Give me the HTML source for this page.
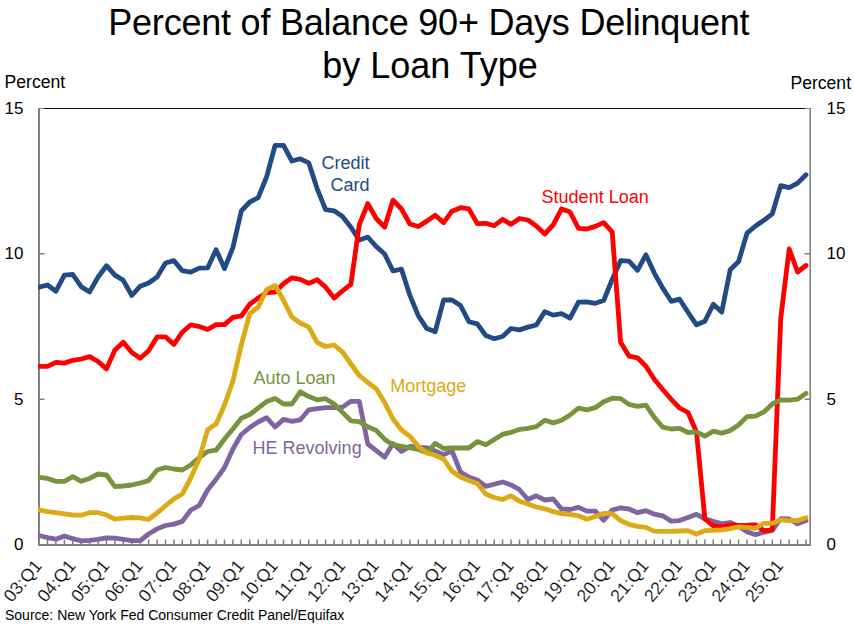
<!DOCTYPE html>
<html><head><meta charset="utf-8"><style>
html,body{margin:0;padding:0;background:#fff;width:854px;height:624px;overflow:hidden}
svg{display:block}
text{font-family:"Liberation Sans", sans-serif}
</style></head><body>
<svg width="854" height="624" viewBox="0 0 854 624">
<rect width="854" height="624" fill="#fff"/>
<g font-size="36" text-anchor="middle" fill="#000">
<text x="428.8" y="35" letter-spacing="-0.22">Percent of Balance 90+ Days Delinquent</text>
<text x="430" y="77.5">by Loan Type</text>
</g>
<g font-size="17" fill="#000">
<text x="4.6" y="87.6" font-size="17.6">Percent</text>
<text x="790.4" y="89" font-size="17.6">Percent</text>
<g text-anchor="end">
<text x="23.5" y="113.5">15</text>
<text x="23.5" y="259">10</text>
<text x="23.5" y="405">5</text>
<text x="23.5" y="550">0</text>
</g>
<text x="826.5" y="113.5">15</text>
<text x="826.5" y="259">10</text>
<text x="826.5" y="405">5</text>
<text x="826.5" y="550">0</text>
</g>
<line x1="44" y1="108.5" x2="805" y2="108.5" stroke="#111" stroke-width="1.2"/>
<path d="M38 108.5H44M805 108.5H811" stroke="#8a8a8a" stroke-width="1.2"/>
<g stroke="#808080" fill="none">
<path d="M39 108V544.9H811" stroke-width="2"/>
<path d="M810.2 108V545.9" stroke-width="1.6"/>
<path d="M47.5 544V539.5 M55.9 544V539.5 M64.4 544V539.5 M72.8 544V539.5 M81.2 544V539.5 M89.6 544V539.5 M98.1 544V539.5 M106.5 544V539.5 M114.9 544V539.5 M123.3 544V539.5 M131.8 544V539.5 M140.2 544V539.5 M148.6 544V539.5 M157.1 544V539.5 M165.5 544V539.5 M173.9 544V539.5 M182.3 544V539.5 M190.8 544V539.5 M199.2 544V539.5 M207.6 544V539.5 M216.1 544V539.5 M224.5 544V539.5 M232.9 544V539.5 M241.3 544V539.5 M249.8 544V539.5 M258.2 544V539.5 M266.6 544V539.5 M275.1 544V539.5 M283.5 544V539.5 M291.9 544V539.5 M300.3 544V539.5 M308.8 544V539.5 M317.2 544V539.5 M325.6 544V539.5 M334.1 544V539.5 M342.5 544V539.5 M350.9 544V539.5 M359.3 544V539.5 M367.8 544V539.5 M376.2 544V539.5 M384.6 544V539.5 M393.0 544V539.5 M401.5 544V539.5 M409.9 544V539.5 M418.3 544V539.5 M426.8 544V539.5 M435.2 544V539.5 M443.6 544V539.5 M452.0 544V539.5 M460.5 544V539.5 M468.9 544V539.5 M477.3 544V539.5 M485.8 544V539.5 M494.2 544V539.5 M502.6 544V539.5 M511.0 544V539.5 M519.5 544V539.5 M527.9 544V539.5 M536.3 544V539.5 M544.8 544V539.5 M553.2 544V539.5 M561.6 544V539.5 M570.0 544V539.5 M578.5 544V539.5 M586.9 544V539.5 M595.3 544V539.5 M603.7 544V539.5 M612.2 544V539.5 M620.6 544V539.5 M629.0 544V539.5 M637.5 544V539.5 M645.9 544V539.5 M654.3 544V539.5 M662.7 544V539.5 M671.2 544V539.5 M679.6 544V539.5 M688.0 544V539.5 M696.5 544V539.5 M704.9 544V539.5 M713.3 544V539.5 M721.7 544V539.5 M730.2 544V539.5 M738.6 544V539.5 M747.0 544V539.5 M755.5 544V539.5 M763.9 544V539.5 M772.3 544V539.5 M780.7 544V539.5 M789.2 544V539.5 M797.6 544V539.5 M806.0 544V539.5" stroke-width="1.5"/>
<path d="M39 253.8H44.5M39 399.2H44.5M810 253.8H804.5M810 399.2H804.5" stroke-width="1.5"/>
</g>
<defs><clipPath id="cp"><rect x="38" y="0" width="816" height="624"/></clipPath></defs>
<g fill="none" stroke-width="4.8" stroke-linejoin="round" stroke-linecap="round" clip-path="url(#cp)">
<polyline stroke="#214b85" points="39.1,287.1 47.5,285.0 55.9,291.2 64.4,275.1 72.8,274.5 81.2,286.7 89.6,291.9 98.1,277.0 106.5,265.7 114.9,275.1 123.3,280.3 131.8,295.5 140.2,286.2 148.6,283.0 157.1,277.0 165.5,263.0 173.9,260.6 182.3,270.7 190.8,272.2 199.2,268.2 207.6,267.9 216.1,249.7 224.5,268.5 232.9,247.6 241.3,211.0 249.8,202.0 258.2,197.7 266.6,176.8 275.1,145.4 283.5,145.4 291.9,161.0 300.3,158.8 308.8,162.9 317.2,188.8 325.6,209.7 334.1,210.8 342.5,216.5 350.9,227.3 359.3,240.1 367.8,237.1 376.2,246.5 384.6,254.0 393.0,271.0 401.5,269.2 409.9,295.4 418.3,315.7 426.8,328.6 435.2,331.7 443.6,300.0 452.0,300.0 460.5,305.5 468.9,321.7 477.3,323.9 485.8,335.5 494.2,338.7 502.6,336.5 511.0,328.5 519.5,329.9 527.9,327.1 536.3,325.0 544.8,311.6 553.2,315.1 561.6,313.7 570.0,318.2 578.5,302.2 586.9,301.9 595.3,303.3 603.7,300.5 612.2,279.4 620.6,260.7 629.0,261.2 637.5,270.3 645.9,254.8 654.3,273.1 662.7,288.0 671.2,301.3 679.6,299.2 688.0,312.2 696.5,324.8 704.9,321.3 713.3,304.2 721.7,312.1 730.2,269.8 738.6,261.5 747.0,233.2 755.5,226.0 763.9,220.3 772.3,213.8 780.7,185.6 789.2,187.6 797.6,183.1 806.0,174.7"/>
<polyline stroke="#8064a2" points="39.1,535.5 47.5,537.6 55.9,539.2 64.4,536.0 72.8,538.7 81.2,540.8 89.6,540.3 98.1,539.4 106.5,537.9 114.9,538.2 123.3,539.4 131.8,540.7 140.2,540.7 148.6,534.0 157.1,528.9 165.5,525.5 173.9,524.1 182.3,521.4 190.8,510.0 199.2,505.5 207.6,490.0 216.1,479.3 224.5,467.5 232.9,449.0 241.3,434.5 249.8,427.5 258.2,422.0 266.6,417.6 275.1,427.0 283.5,419.4 291.9,421.3 300.3,419.8 308.8,409.8 317.2,408.7 325.6,407.7 334.1,407.7 342.5,407.1 350.9,401.3 359.3,401.4 367.8,444.0 376.2,450.7 384.6,457.2 393.0,443.5 401.5,451.4 409.9,446.4 418.3,447.1 426.8,447.8 435.2,451.0 443.6,454.6 452.0,451.0 460.5,472.0 468.9,477.0 477.3,479.9 485.8,486.4 494.2,484.2 502.6,482.0 511.0,484.9 519.5,489.7 527.9,499.5 536.3,495.8 544.8,500.0 553.2,499.0 561.6,509.0 570.0,509.5 578.5,507.4 586.9,511.1 595.3,511.1 603.7,520.3 612.2,510.0 620.6,507.9 629.0,509.0 637.5,512.7 645.9,510.6 654.3,514.2 662.7,515.8 671.2,521.1 679.6,520.6 688.0,517.5 696.5,514.3 704.9,518.8 713.3,521.2 721.7,523.9 730.2,522.5 738.6,526.2 747.0,531.7 755.5,534.7 763.9,532.3 772.3,530.3 780.7,518.6 789.2,519.0 797.6,523.8 806.0,520.6"/>
<polyline stroke="#ff0000" points="39.1,366.4 47.5,366.4 55.9,362.3 64.4,363.1 72.8,360.3 81.2,359.0 89.6,356.6 98.1,361.5 106.5,368.9 114.9,350.0 123.3,342.3 131.8,352.5 140.2,358.2 148.6,350.8 157.1,336.9 165.5,336.9 173.9,344.4 182.3,332.2 190.8,324.8 199.2,326.5 207.6,329.5 216.1,324.6 224.5,324.6 232.9,317.4 241.3,316.0 249.8,304.2 258.2,298.0 266.6,292.5 275.1,292.0 283.5,283.7 291.9,277.8 300.3,279.3 308.8,283.4 317.2,279.7 325.6,287.1 334.1,298.1 342.5,290.8 350.9,284.3 359.3,224.5 367.8,203.6 376.2,218.5 384.6,227.2 393.0,200.3 401.5,209.0 409.9,224.0 418.3,226.5 426.8,221.1 435.2,215.3 443.6,222.6 452.0,211.2 460.5,207.7 468.9,208.9 477.3,223.6 485.8,223.3 494.2,225.7 502.6,219.3 511.0,224.4 519.5,218.5 527.9,220.0 536.3,226.0 544.8,234.0 553.2,224.9 561.6,208.9 570.0,212.0 578.5,228.4 586.9,229.0 595.3,226.4 603.7,222.6 612.2,232.0 620.6,342.2 629.0,356.1 637.5,357.8 645.9,366.2 654.3,379.3 662.7,389.5 671.2,399.3 679.6,408.0 688.0,412.5 696.5,432.0 704.9,519.0 713.3,526.0 721.7,526.8 730.2,525.0 738.6,525.4 747.0,525.2 755.5,524.8 763.9,530.7 772.3,529.9 780.7,318.8 789.2,249.0 797.6,272.0 806.0,265.5"/>
<polyline stroke="#77933c" points="39.1,477.3 47.5,478.4 55.9,481.3 64.4,481.3 72.8,476.6 81.2,481.3 89.6,478.4 98.1,474.0 106.5,475.0 114.9,486.6 123.3,486.0 131.8,485.0 140.2,483.0 148.6,480.6 157.1,470.0 165.5,467.5 173.9,469.0 182.3,470.0 190.8,465.0 199.2,457.5 207.6,451.5 216.1,450.2 224.5,439.0 232.9,429.0 241.3,418.2 249.8,414.5 258.2,408.0 266.6,401.6 275.1,398.5 283.5,404.0 291.9,404.0 300.3,391.8 308.8,396.6 317.2,399.8 325.6,398.7 334.1,404.0 342.5,412.4 350.9,420.8 359.3,421.6 367.8,426.8 376.2,430.4 384.6,439.2 393.0,444.9 401.5,446.4 409.9,447.8 418.3,449.3 426.8,452.9 435.2,443.3 443.6,448.5 452.0,448.0 460.5,448.0 468.9,448.0 477.3,441.6 485.8,444.8 494.2,439.5 502.6,434.4 511.0,432.3 519.5,429.4 527.9,428.3 536.3,426.6 544.8,420.3 553.2,422.9 561.6,420.3 570.0,415.0 578.5,408.2 586.9,409.8 595.3,407.7 603.7,401.8 612.2,398.2 620.6,398.6 629.0,404.4 637.5,406.3 645.9,405.2 654.3,417.4 662.7,427.1 671.2,429.0 679.6,428.3 688.0,432.5 696.5,431.9 704.9,436.2 713.3,431.1 721.7,433.1 730.2,430.6 738.6,425.0 747.0,416.6 755.5,416.1 763.9,411.9 772.3,404.0 780.7,399.8 789.2,400.1 797.6,399.2 806.0,393.4"/>
<polyline stroke="#dcaa14" points="39.1,509.8 47.5,511.6 55.9,512.7 64.4,513.8 72.8,515.0 81.2,515.2 89.6,512.7 98.1,512.7 106.5,515.0 114.9,519.2 123.3,518.2 131.8,517.5 140.2,517.8 148.6,519.5 157.1,513.0 165.5,505.8 173.9,498.8 182.3,494.0 190.8,478.0 199.2,459.0 207.6,429.8 216.1,424.0 224.5,405.0 232.9,381.0 241.3,344.9 249.8,313.6 258.2,307.2 266.6,289.6 275.1,285.4 283.5,300.3 291.9,317.0 300.3,323.0 308.8,327.2 317.2,342.5 325.6,346.5 334.1,345.0 342.5,352.0 350.9,364.0 359.3,375.5 367.8,382.3 376.2,388.8 384.6,402.5 393.0,419.0 401.5,430.0 409.9,436.3 418.3,446.4 426.8,452.9 435.2,455.2 443.6,459.0 452.0,471.2 460.5,477.0 468.9,480.6 477.3,483.5 485.8,494.0 494.2,497.5 502.6,499.5 511.0,495.8 519.5,501.3 527.9,504.0 536.3,506.9 544.8,508.8 553.2,511.6 561.6,513.7 570.0,514.3 578.5,515.8 586.9,519.3 595.3,516.4 603.7,513.5 612.2,513.7 620.6,520.6 629.0,524.3 637.5,526.4 645.9,527.4 654.3,531.1 662.7,531.4 671.2,531.4 679.6,531.0 688.0,530.7 696.5,534.0 704.9,530.7 713.3,530.3 721.7,529.9 730.2,528.7 738.6,527.0 747.0,527.3 755.5,528.3 763.9,523.4 772.3,523.4 780.7,519.8 789.2,520.6 797.6,520.6 806.0,517.8"/>
</g>
<g font-size="18">
<g fill="#214b85" text-anchor="end"><text x="369.5" y="169">Credit</text><text x="369.5" y="191">Card</text></g>
<text fill="#ff0000" x="541.6" y="203.2">Student Loan</text>
<text fill="#77933c" x="253.5" y="384">Auto Loan</text>
<text fill="#dcaa14" x="390.2" y="392">Mortgage</text>
<text fill="#8064a2" x="252.6" y="454">HE Revolving</text>
</g>
<g font-size="17.8" fill="#000" stroke="#fff" stroke-width="0.2">
<text x="42.9" y="566.2" transform="rotate(-50 42.9 566.2)" text-anchor="end">03:Q1</text>
<text x="76.6" y="566.2" transform="rotate(-50 76.6 566.2)" text-anchor="end">04:Q1</text>
<text x="110.3" y="566.2" transform="rotate(-50 110.3 566.2)" text-anchor="end">05:Q1</text>
<text x="144.0" y="566.2" transform="rotate(-50 144.0 566.2)" text-anchor="end">06:Q1</text>
<text x="177.7" y="566.2" transform="rotate(-50 177.7 566.2)" text-anchor="end">07:Q1</text>
<text x="211.4" y="566.2" transform="rotate(-50 211.4 566.2)" text-anchor="end">08:Q1</text>
<text x="245.1" y="566.2" transform="rotate(-50 245.1 566.2)" text-anchor="end">09:Q1</text>
<text x="278.9" y="566.2" transform="rotate(-50 278.9 566.2)" text-anchor="end">10:Q1</text>
<text x="312.6" y="566.2" transform="rotate(-50 312.6 566.2)" text-anchor="end">11:Q1</text>
<text x="346.3" y="566.2" transform="rotate(-50 346.3 566.2)" text-anchor="end">12:Q1</text>
<text x="380.0" y="566.2" transform="rotate(-50 380.0 566.2)" text-anchor="end">13:Q1</text>
<text x="413.7" y="566.2" transform="rotate(-50 413.7 566.2)" text-anchor="end">14:Q1</text>
<text x="447.4" y="566.2" transform="rotate(-50 447.4 566.2)" text-anchor="end">15:Q1</text>
<text x="481.1" y="566.2" transform="rotate(-50 481.1 566.2)" text-anchor="end">16:Q1</text>
<text x="514.8" y="566.2" transform="rotate(-50 514.8 566.2)" text-anchor="end">17:Q1</text>
<text x="548.6" y="566.2" transform="rotate(-50 548.6 566.2)" text-anchor="end">18:Q1</text>
<text x="582.3" y="566.2" transform="rotate(-50 582.3 566.2)" text-anchor="end">19:Q1</text>
<text x="616.0" y="566.2" transform="rotate(-50 616.0 566.2)" text-anchor="end">20:Q1</text>
<text x="649.7" y="566.2" transform="rotate(-50 649.7 566.2)" text-anchor="end">21:Q1</text>
<text x="683.4" y="566.2" transform="rotate(-50 683.4 566.2)" text-anchor="end">22:Q1</text>
<text x="717.1" y="566.2" transform="rotate(-50 717.1 566.2)" text-anchor="end">23:Q1</text>
<text x="750.8" y="566.2" transform="rotate(-50 750.8 566.2)" text-anchor="end">24:Q1</text>
<text x="784.5" y="566.2" transform="rotate(-50 784.5 566.2)" text-anchor="end">25:Q1</text>
</g>
<text x="5" y="619.7" font-size="14" fill="#000">Source: New York Fed Consumer Credit Panel/Equifax</text>
</svg>
</body></html>
